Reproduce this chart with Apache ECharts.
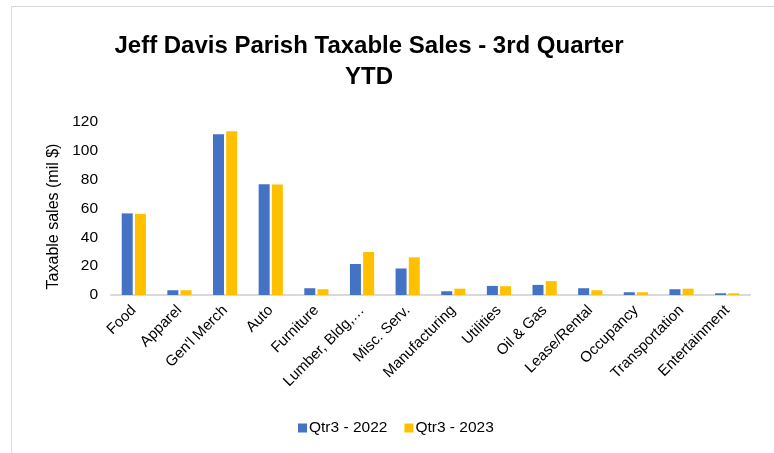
<!DOCTYPE html>
<html>
<head>
<meta charset="utf-8">
<script src="https://cdn.jsdelivr.net/npm/echarts@6/dist/echarts.min.js"></script>
<style>
html,body{margin:0;padding:0;background:#fff;}
#frame{position:absolute;left:11px;top:6px;width:800px;height:500px;border:1px solid #d9d9d9;box-sizing:border-box;}
#main{position:absolute;left:0;top:0;width:774px;height:453px;}
</style>
</head>
<body>
<div id="frame"></div>
<div id="main"></div>
<script>
const categories = ["Food","Apparel","Gen'l Merch","Auto","Furniture","Lumber, Bldg,…","Misc. Serv.","Manufacturing","Utilities","Oil & Gas","Lease/Rental","Occupancy","Transportation","Entertainment"];
const q3_2022 = [56.6, 3.3, 111.5, 76.9, 4.7, 21.5, 18.4, 2.6, 6.3, 7.0, 4.7, 1.9, 4.0, 1.2];
const q3_2023 = [56.3, 3.3, 113.5, 76.6, 4.0, 29.8, 26.1, 4.4, 6.1, 9.6, 3.3, 1.9, 4.4, 1.2];
const yTicks = [0, 20, 40, 60, 80, 100, 120];
const seriesNames = ["Qtr3 - 2022", "Qtr3 - 2023"];

const chart = echarts.init(document.getElementById('main'), null, {renderer: 'canvas'});
const font = "Liberation Sans, Arial, sans-serif";
chart.setOption({
  backgroundColor: 'transparent',
  animation: false,
  title: {
    text: "Jeff Davis Parish Taxable Sales - 3rd Quarter\nYTD",
    left: 364, top: 26, textAlign: 'center',
    textStyle: {fontFamily: font, fontSize: 24, fontWeight: 'bold', color: '#000', lineHeight: 31}
  },
  legend: {
    data: seriesNames,
    top: 415, left: 293,
    itemWidth: 9, itemHeight: 9, itemGap: 17,
    icon: 'rect',
    textStyle: {fontFamily: font, fontSize: 15.5, color: '#000', padding: [0,0,0,-3]}
  },
  grid: {left: 111, right: 24, top: 122, bottom: 158, containLabel: false},
  xAxis: {
    type: 'category', data: categories,
    axisLine: {lineStyle: {color: '#d9d9d9', width: 2}},
    axisTick: {show: false},
    axisLabel: {rotate: 45, interval: 0, fontFamily: font, fontSize: 15, color: '#000', margin: 13}
  },
  yAxis: {
    type: 'value', min: yTicks[0], max: yTicks[yTicks.length-1], interval: 20,
    name: 'Taxable sales (mil $)', nameLocation: 'middle', nameGap: 46,
    nameTextStyle: {fontFamily: font, fontSize: 16, color: '#000', padding: [0, 16, 0, 0]},
    splitLine: {show: false},
    axisLine: {show: false}, axisTick: {show: false},
    axisLabel: {fontFamily: font, fontSize: 15.5, color: '#000', margin: 13}
  },
  series: [
    {name: seriesNames[0], type: 'bar', data: q3_2022, barWidth: 11, barGap: '20%', itemStyle: {color: '#4472C4'}},
    {name: seriesNames[1], type: 'bar', data: q3_2023, barWidth: 11, itemStyle: {color: '#FFC000'}}
  ]
});
</script>
</body>
</html>
